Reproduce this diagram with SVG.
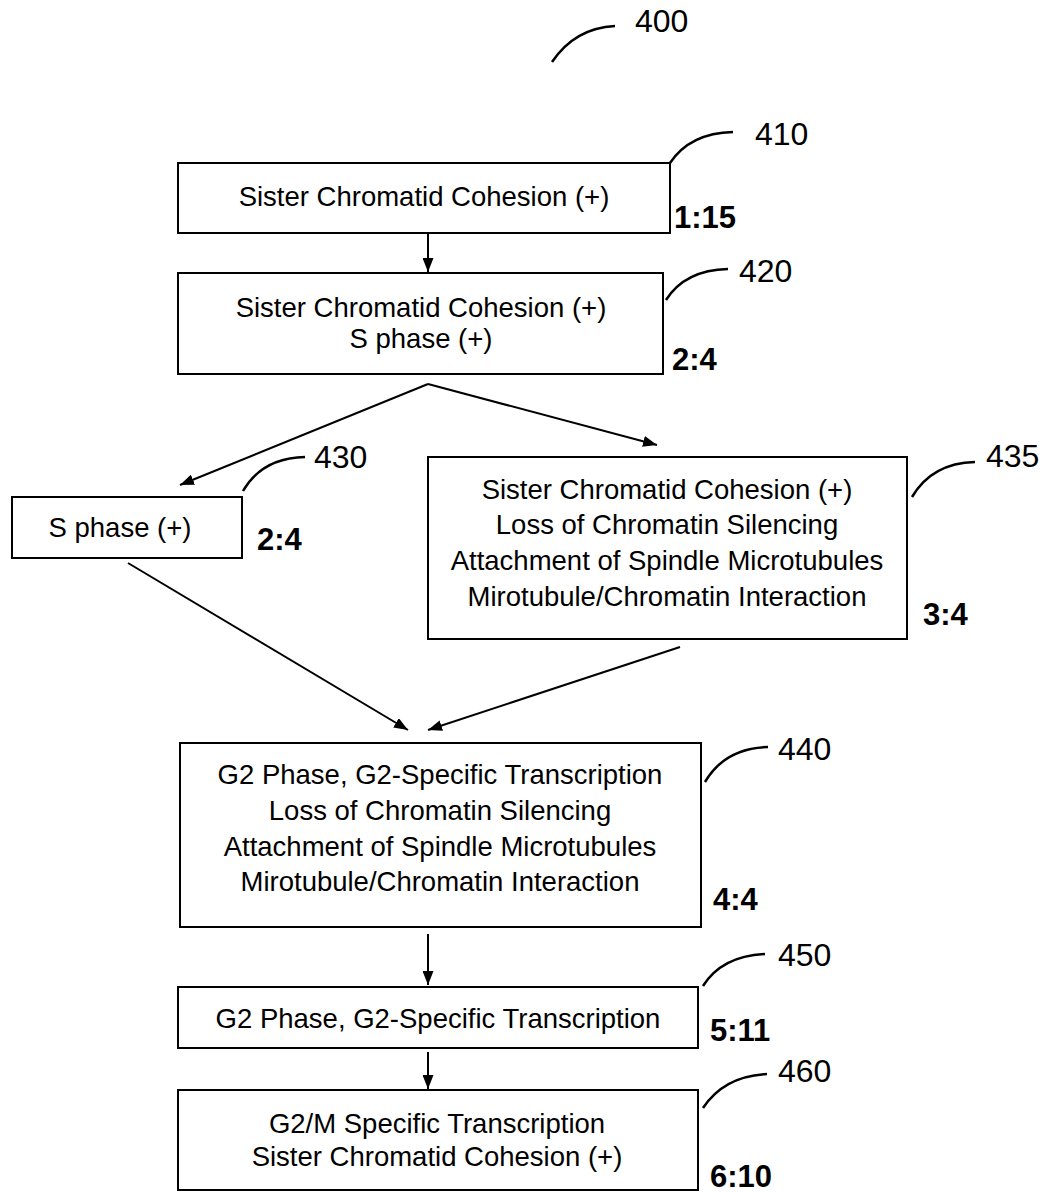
<svg xmlns="http://www.w3.org/2000/svg" width="1046" height="1192" viewBox="0 0 1046 1192">
<defs>
<style>
.box{fill:#fff;stroke:#000;stroke-width:2}
.t{font-family:"Liberation Sans",Arial,sans-serif;font-size:27.5px;text-anchor:middle;fill:#000}
.n{font-family:"Liberation Sans",Arial,sans-serif;font-size:31px;font-weight:bold;fill:#000}
.ref{font-family:"Liberation Sans",Arial,sans-serif;font-size:32px;fill:#000}
.lead{fill:none;stroke:#000;stroke-width:2.5}
.c{fill:none;stroke:#000;stroke-width:2}
</style>
<marker id="ah" viewBox="0 0 14 11" refX="14" refY="5.5" markerWidth="14" markerHeight="11" markerUnits="userSpaceOnUse" orient="auto">
<path d="M0,0 L14,5.5 L0,11 z" fill="#000"/>
</marker>
</defs>
<rect width="1046" height="1192" fill="#fff"/>
<g id="ref400">
<path class="lead" d="M552,62 Q575,28 615,26"/>
<text class="ref" x="635" y="32">400</text>
</g>
<g id="node410">
<rect class="box" x="178" y="163" width="492" height="70"/>
<text class="t" x="424" y="206">Sister Chromatid Cohesion (+)</text>
<text class="n" x="674" y="228">1:15</text>
<path class="lead" d="M670,163 Q690,133 733,132"/>
<text class="ref" x="755" y="145">410</text>
</g>
<g id="node420">
<rect class="box" x="178" y="273" width="485" height="101"/>
<text class="t" x="421" y="317">Sister Chromatid Cohesion (+)</text>
<text class="t" x="421" y="348">S phase (+)</text>
<text class="n" x="672" y="370">2:4</text>
<path class="lead" d="M666,300 Q685,270 728,269"/>
<text class="ref" x="739" y="282">420</text>
</g>
<g id="node430">
<rect class="box" x="12" y="497" width="230" height="61"/>
<text class="t" x="120" y="537">S phase (+)</text>
<text class="n" x="257" y="550">2:4</text>
<path class="lead" d="M243,491 Q262,458 305,457"/>
<text class="ref" x="314" y="468">430</text>
</g>
<g id="node435">
<rect class="box" x="428" y="457" width="479" height="182"/>
<text class="t" x="667" y="499">Sister Chromatid Cohesion (+)</text>
<text class="t" x="667" y="534">Loss of Chromatin Silencing</text>
<text class="t" x="667" y="570">Attachment of Spindle Microtubules</text>
<text class="t" x="667" y="606">Mirotubule/Chromatin Interaction</text>
<text class="n" x="923" y="625">3:4</text>
<path class="lead" d="M912,497 Q932,463 975,462"/>
<text class="ref" x="986" y="467">435</text>
</g>
<g id="node440">
<rect class="box" x="180" y="743" width="521" height="184"/>
<text class="t" x="440" y="784">G2 Phase, G2-Specific Transcription</text>
<text class="t" x="440" y="820">Loss of Chromatin Silencing</text>
<text class="t" x="440" y="856">Attachment of Spindle Microtubules</text>
<text class="t" x="440" y="891">Mirotubule/Chromatin Interaction</text>
<text class="n" x="713" y="910">4:4</text>
<path class="lead" d="M705,782 Q725,748 768,747"/>
<text class="ref" x="778" y="760">440</text>
</g>
<g id="node450">
<rect class="box" x="178" y="987" width="520" height="61"/>
<text class="t" x="438" y="1028">G2 Phase, G2-Specific Transcription</text>
<text class="n" x="710" y="1041">5:11</text>
<path class="lead" d="M703,986 Q722,956 765,954"/>
<text class="ref" x="778" y="966">450</text>
</g>
<g id="node460">
<rect class="box" x="178" y="1090" width="520" height="100"/>
<text class="t" x="437" y="1133">G2/M Specific Transcription</text>
<text class="t" x="437" y="1166">Sister Chromatid Cohesion (+)</text>
<text class="n" x="710" y="1187">6:10</text>
<path class="lead" d="M703,1108 Q724,1076 767,1074"/>
<text class="ref" x="778" y="1082">460</text>
</g>
<g id="connectors">
<line class="c" x1="428" y1="233" x2="428" y2="272" marker-end="url(#ah)"/>
<line class="c" x1="428" y1="384" x2="180" y2="485" marker-end="url(#ah)"/>
<line class="c" x1="428" y1="384" x2="657" y2="445" marker-end="url(#ah)"/>
<line class="c" x1="128" y1="563" x2="408" y2="730" marker-end="url(#ah)"/>
<line class="c" x1="680" y1="647" x2="428" y2="730" marker-end="url(#ah)"/>
<line class="c" x1="428" y1="934" x2="428" y2="985" marker-end="url(#ah)"/>
<line class="c" x1="428" y1="1052" x2="428" y2="1089" marker-end="url(#ah)"/>
</g>
</svg>
